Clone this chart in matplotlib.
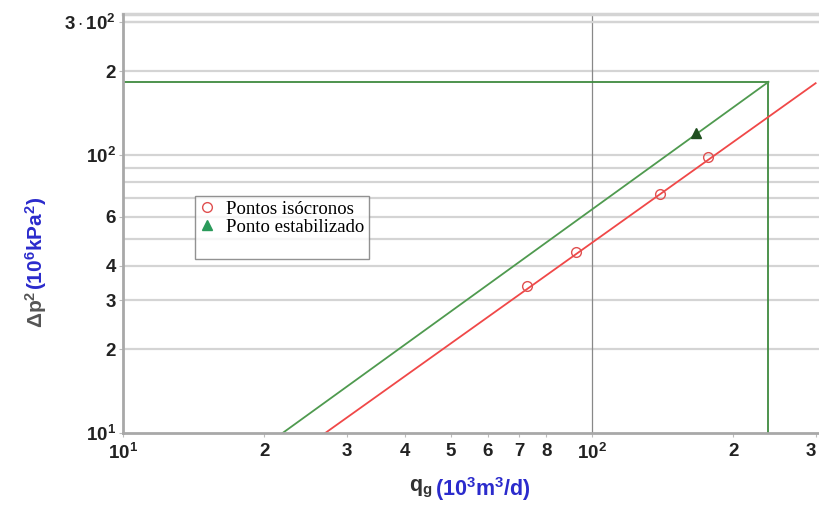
import matplotlib
matplotlib.use("Agg")
import matplotlib.pyplot as plt
from matplotlib.lines import Line2D
from matplotlib.ticker import FixedLocator, NullFormatter
from matplotlib import font_manager

_names = {f.name for f in font_manager.fontManager.ttflist}
TICKFONT = 'Liberation Sans Narrow' if 'Liberation Sans Narrow' in _names else 'Liberation Sans'
TICKSIZE = 14.5 if TICKFONT == 'Liberation Sans Narrow' else 13.5

plt.rcParams['mathtext.fontset'] = 'custom'
plt.rcParams['mathtext.rm'] = 'Liberation Sans'
plt.rcParams['mathtext.bf'] = 'Liberation Sans:bold'
plt.rcParams['mathtext.it'] = 'Liberation Sans:italic'
plt.rcParams['mathtext.sf'] = TICKFONT + ':bold'

# ---- data ----
iso_q = [72.7, 92.5, 139.6, 176.7]        # isochronal points q_g (10^3 m3/d)
iso_dp2 = [33.8, 44.8, 72.4, 98.4]        # Δp² (10^6 kPa²)
stab_q = [167.0]
stab_dp2 = [120.0]
red_line_q = [27.0, 300.0]
red_line_dp2 = [10.0, 181.0]
green_line_q = [21.9, 238.0]
green_line_dp2 = [10.0, 183.0]
aof_q = 238.0          # absolute open flow
pr2 = 183.0            # reservoir Δp² level

yticks = [10, 20, 30, 40, 60, 100, 200, 300]
ytick_labels = [r"$\mathsf{10^1}$", "2", "3", "4", "6", r"$\mathsf{10^2}$", "2", r"$\mathsf{3\cdot10^2}$"]
ygrid = [20, 30, 40, 50, 60, 70, 80, 90, 100, 200, 300]
xticks = [10, 20, 30, 40, 50, 60, 70, 80, 100, 200, 300]
xtick_labels = [r"$\mathsf{10^1}$", "2", "3", "4", "5", "6", "7", "8", r"$\mathsf{10^2}$", "2", "3"]

fig = plt.figure(figsize=(8.19, 5.05), dpi=100)
ax = fig.add_axes([123/819, 72/505, 696/819, 419/505])
ax.set_xscale('log')
ax.set_yscale('log')
ax.set_xlim(10, 305)
ax.set_ylim(10, 321)

for v in ygrid:
    ax.axhline(v, color='#d4d4d4', lw=1.6, zorder=0)
ax.axvline(100, color='#888888', lw=0.9, zorder=0)

green = '#4f9a4f'
red = '#f04848'
ax.plot([10, aof_q], [pr2, pr2], color='#3f8a3f', lw=1.3, zorder=2)
ax.plot([aof_q, aof_q], [10, pr2], color='#3f8a3f', lw=1.3, zorder=2)
ax.plot(green_line_q, green_line_dp2, color=green, lw=1.3, zorder=2)
ax.plot(red_line_q, red_line_dp2, color=red, lw=1.3, zorder=2)
ax.plot(iso_q, iso_dp2, 'o', mfc='none', mec='#e05050', ms=7, mew=1.0, zorder=3)
ax.plot(stab_q, stab_dp2, '^', color='#1f4f1f', ms=7, zorder=3)

ax.yaxis.set_major_locator(FixedLocator(yticks))
ax.set_yticklabels(ytick_labels)
ax.yaxis.set_minor_locator(FixedLocator([]))
ax.xaxis.set_major_locator(FixedLocator(xticks))
ax.set_xticklabels(xtick_labels)
ax.xaxis.set_minor_formatter(NullFormatter())
ax.xaxis.set_minor_locator(FixedLocator([9.9e9]))
for lab in ax.get_xticklabels() + ax.get_yticklabels():
    lab.set_fontfamily(TICKFONT)
    lab.set_fontweight('bold')
    lab.set_fontsize(TICKSIZE)
    lab.set_color('#222222')
ax.get_xticklabels()[-1].set_horizontalalignment('right')
ax.tick_params(axis='y', which='major', length=3, width=0.8, color='#bbbbbb', pad=2)
ax.tick_params(axis='x', which='major', length=3, width=0.8, color='#bbbbbb', pad=4)

for s in ['top', 'right']:
    ax.spines[s].set_visible(False)
for s in ['left', 'bottom']:
    ax.spines[s].set_color('#a8a8a8')
    ax.spines[s].set_linewidth(2)
ax.axhline(300, color='#d4d4d4', lw=1.6, zorder=0)
ax.axhline(321, color='#d4d4d4', lw=2.5, zorder=0, clip_on=False)

h1 = Line2D([], [], marker='o', ls='none', mfc='none', mec='#e05050', ms=7)
h2 = Line2D([], [], marker='^', ls='none', color='#2a9a5a', ms=7)
h3 = Line2D([], [], ls='none')
leg = ax.legend([h1, h2, h3], ['Pontos isócronos', 'Ponto estabilizado', ' '],
                loc='upper left', bbox_to_anchor=(72/696, (433-196)/419),
                prop={'family': 'Liberation Serif', 'size': 13.5},
                frameon=True, fancybox=False, edgecolor='#777777',
                handlelength=0.8, handletextpad=0.6, borderpad=0.25,
                labelspacing=0.05, borderaxespad=0)
leg.get_frame().set_linewidth(1.0)

# axis labels (two colours)
fig.text(432/819, (505-489)/505, r"$\mathbf{q_g}$", ha='right', va='center',
         fontsize=15.5, color='#333333')
fig.text(435/819, (505-489)/505, r"$\mathbf{(10^3m^3/d)}$", ha='left', va='center',
         fontsize=15.5, color='#2b2bcc')
fig.text(36/819, (505-328)/505, r"$\mathbf{\Delta p^2}$", ha='center', va='bottom',
         rotation=90, fontsize=15, color='#555555')
fig.text(36/819, (505-290)/505, r"$\mathbf{(10^6kPa^2)}$", ha='center', va='bottom',
         rotation=90, fontsize=15, color='#2b2bcc')

fig.savefig('out.png', dpi=100)
